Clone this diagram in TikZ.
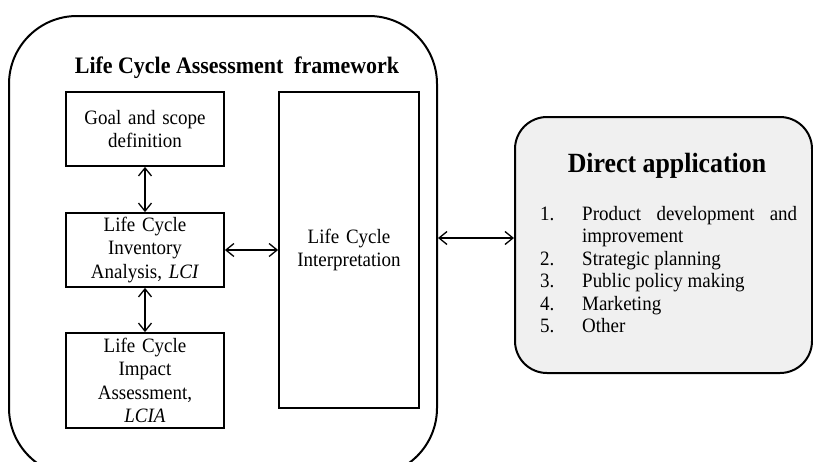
\documentclass[tikz,border=0pt]{standalone}
\usepackage{fontspec}
\setmainfont[FakeStretch=0.93]{Liberation Serif}
\usetikzlibrary{arrows.meta}
\begin{document}
\begin{tikzpicture}[x=1pt,y=-1pt,
  box/.style={draw, line width=1.8pt, inner sep=0pt, align=center,
    font=\fontsize{20.4}{23.6}\selectfont},
  dbl/.style={line width=1.3pt, {Straight Barb[length=8pt,width=13pt]}-{Straight Barb[length=8pt,width=13pt]}},
  txt/.style={inner sep=0pt, anchor=base west, font=\fontsize{20.4}{22.5}\selectfont}]
\useasboundingbox (0,0) rectangle (813,461);
\clip (0,0) rectangle (813,461);
% outer framework box
\node[draw, line width=2pt, rounded corners=68pt, minimum width=428pt, minimum height=460pt, inner sep=0pt] (outer) at (223,246) {};
\node[inner sep=0pt, anchor=base, font=\fontsize{23.6}{26}\selectfont\bfseries] (title) at (237,73) {Life Cycle Assessment\ \ framework};
% inner boxes
\node[box, minimum width=158pt, minimum height=74pt, text width=156pt] (goal) at (145,129) {Goal and scope\\definition};
\node[box, minimum width=158pt, minimum height=74pt, text width=156pt] (lci) at (145,250) {Life Cycle\\Inventory\\Analysis, \textit{LCI}};
\node[box, minimum width=158pt, minimum height=95pt, text width=156pt] (lcia) at (145,380.5) {Life Cycle\\Impact\\Assessment,\\\textit{LCIA}};
\node[box, minimum width=140pt, minimum height=316pt, text width=138pt] (interp) at (349,250) {Life Cycle\\Interpretation};
% arrows
\draw[dbl] (goal) -- (lci);
\draw[dbl] (lci) -- (lcia);
\draw[dbl] (lci) -- (lci -| interp.west);
% direct application box
\node[draw, line width=2pt, rounded corners=32pt, fill=black!6, minimum width=297pt, minimum height=256pt, inner sep=0pt] (direct) at (663.5,245) {};
\node[inner sep=0pt, anchor=base, font=\fontsize{27.8}{30}\selectfont\bfseries] (dtitle) at (667,172) {Direct application};
\coordinate (ap) at (0,238);
\draw[dbl] (outer.east |- ap) -- (direct.west |- ap);
% list
\node[txt] (n1) at (540,220) {1.};
\node[txt] (t1) at (582,220) {\makebox[215pt][s]{Product development and}};
\node[txt] (t1b) at (582,242.5) {improvement};
\node[txt] (n2) at (540,265) {2.};
\node[txt] (t2) at (582,265) {Strategic planning};
\node[txt] (n3) at (540,287.5) {3.};
\node[txt] (t3) at (582,287.5) {Public policy making};
\node[txt] (n4) at (540,310) {4.};
\node[txt] (t4) at (582,310) {Marketing};
\node[txt] (n5) at (540,332.5) {5.};
\node[txt] (t5) at (582,332.5) {Other};
\end{tikzpicture}
\end{document}
